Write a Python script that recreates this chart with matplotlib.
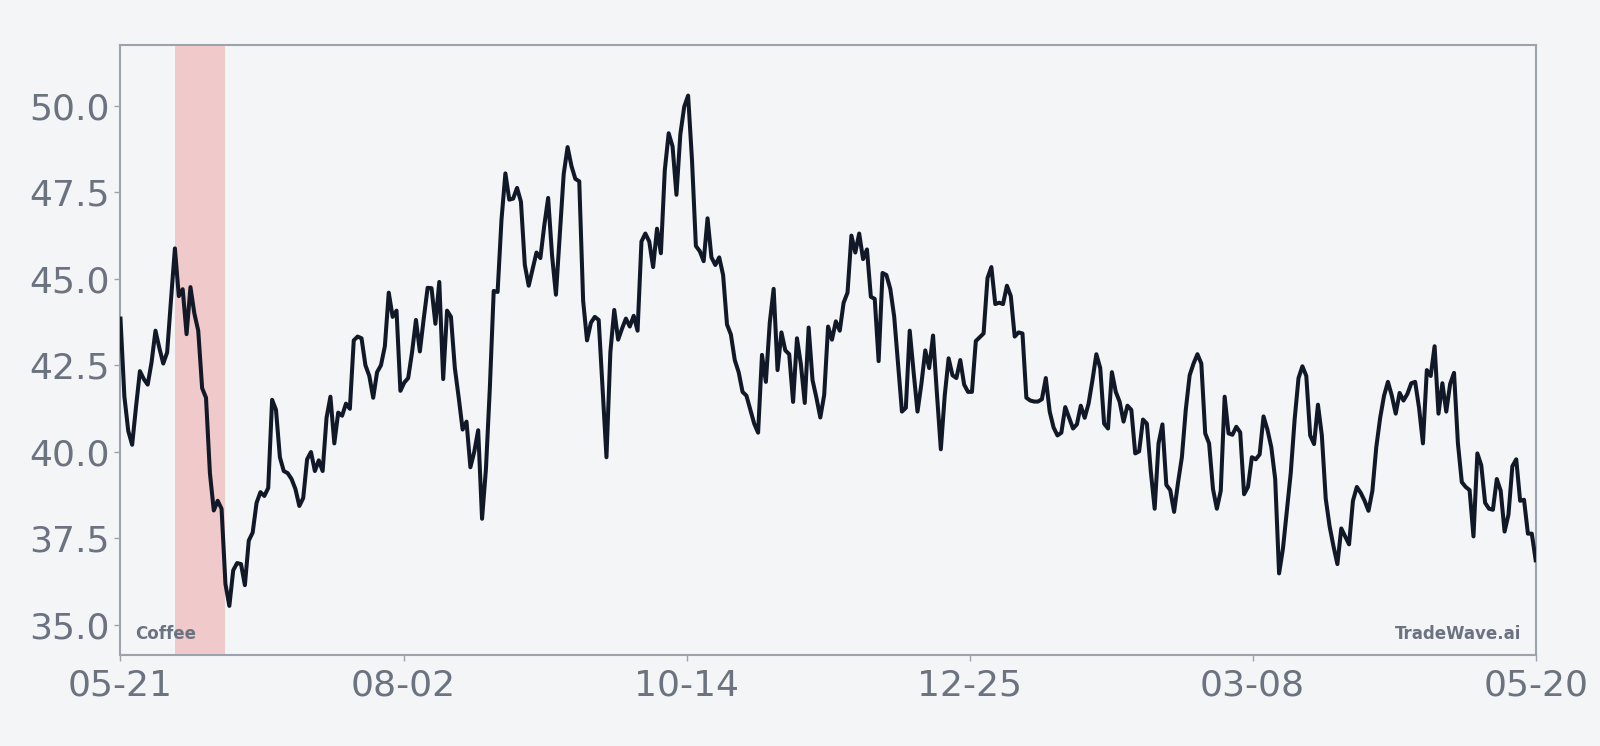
import numpy as np
import matplotlib
matplotlib.use("Agg")
import matplotlib.pyplot as plt
from matplotlib.ticker import MultipleLocator, FormatStrFormatter

# daily closing values
prices = [
    43.85, 41.6, 40.6, 40.2, 41.3, 42.33, 42.1, 41.94, 42.59, 43.5,
    43.0, 42.55, 42.87, 44.4, 45.88, 44.5, 44.7, 43.4, 44.76, 44.0,
    43.5, 41.84, 41.56, 39.38, 38.3, 38.58, 38.35, 36.17, 35.54, 36.57,
    36.78, 36.75, 36.14, 37.43, 37.66, 38.52, 38.83, 38.72, 38.95, 41.5,
    41.21, 39.84, 39.44, 39.38, 39.21, 38.92, 38.43, 38.66, 39.78, 39.99,
    39.44, 39.75, 39.44, 40.98, 41.59, 40.24, 41.13, 41.04, 41.39, 41.24,
    43.22, 43.33, 43.28, 42.5, 42.19, 41.56, 42.3, 42.5, 43.05, 44.6,
    43.9, 44.08, 41.76, 42.0, 42.13, 42.88, 43.81, 42.9, 43.85, 44.74,
    44.73, 43.7, 44.91, 42.1, 44.08, 43.9, 42.42, 41.56, 40.64, 40.87,
    39.55, 40.0, 40.62, 38.06, 39.5, 41.84, 44.65, 44.62, 46.71, 48.05,
    47.29, 47.32, 47.63, 47.23, 45.4, 44.8, 45.28, 45.76, 45.6, 46.54,
    47.34, 45.68, 44.54, 46.31, 48.03, 48.81, 48.26, 47.89, 47.82, 44.36,
    43.22, 43.73, 43.9, 43.81, 41.84, 39.84, 42.88, 44.1, 43.24, 43.56,
    43.85, 43.62, 43.93, 43.5, 46.08, 46.31, 46.08, 45.34, 46.45, 45.74,
    48.14, 49.21, 48.83, 47.43, 49.18, 49.98, 50.3, 48.43, 45.95, 45.8,
    45.51, 46.75, 45.62, 45.4, 45.62, 45.11, 43.68, 43.39, 42.65, 42.3,
    41.73, 41.62, 41.21, 40.81, 40.55, 42.8, 42.02, 43.73, 44.71, 42.36,
    43.45, 42.93, 42.82, 41.44, 43.28, 42.53, 41.41, 43.59, 42.07, 41.56,
    40.99, 41.64, 43.62, 43.24, 43.77, 43.5, 44.31, 44.6, 46.25, 45.76,
    46.31, 45.57, 45.85, 44.48, 44.42, 42.62, 45.17, 45.11, 44.71, 43.91,
    42.53, 41.16, 41.27, 43.5, 42.3, 41.16, 41.96, 42.93, 42.42, 43.36,
    41.67, 40.07, 41.62, 42.7, 42.21, 42.13, 42.65, 41.94, 41.73, 41.73,
    43.2, 43.31, 43.42, 45.02, 45.34, 44.27, 44.31, 44.27, 44.8, 44.5,
    43.33, 43.45, 43.42, 41.56, 41.48, 41.45, 41.45, 41.52, 42.13, 41.16,
    40.7, 40.47, 40.55, 41.29, 40.98, 40.67, 40.79, 41.33, 40.98, 41.39,
    42.07, 42.82, 42.42, 40.81, 40.67, 42.3, 41.73, 41.44, 40.87, 41.33,
    41.21, 39.95, 40.01, 40.93, 40.81, 39.44, 38.35, 40.24, 40.79, 39.04,
    38.89, 38.26, 39.1, 39.84, 41.21, 42.21, 42.55, 42.82, 42.55, 40.53,
    40.24, 38.92, 38.35, 38.87, 41.59, 40.53, 40.49, 40.72, 40.56, 38.77,
    38.98, 39.84, 39.78, 39.92, 41.02, 40.64, 40.13, 39.21, 36.48, 37.2,
    38.29, 39.38, 40.93, 42.13, 42.47, 42.19, 40.47, 40.22, 41.36, 40.47,
    38.64, 37.84, 37.26, 36.75, 37.78, 37.55, 37.32, 38.58, 38.98, 38.81,
    38.58, 38.29, 38.87, 40.13, 40.98, 41.62, 42.02, 41.62, 41.1, 41.7,
    41.48, 41.67, 41.98, 42.02, 41.27, 40.24, 42.36, 42.19, 43.05, 41.1,
    41.98, 41.16, 41.96, 42.28, 40.24, 39.12, 38.98, 38.89, 37.55, 39.95,
    39.61, 38.52, 38.35, 38.32, 39.21, 38.87, 37.69, 38.18, 39.58, 39.78,
    38.58, 38.61, 37.63, 37.63, 36.86,
]
date_labels = ["05-21", "08-02", "10-14", "12-25", "03-08", "05-20"]
highlight = (14, 27)  # shaded window, day index

bg = "#f3f5f7"
grey = "#6b7280"
edge = "#9ca3af"

days = np.arange(len(prices))

fig = plt.figure(figsize=(16, 7.46), dpi=100, facecolor=bg)
ax = fig.add_axes([0.0753, 0.122, 0.8845, 0.818])
ax.set_facecolor(bg)

ax.axvspan(highlight[0], highlight[1], color="#f0caca", lw=0, zorder=1)
ax.plot(days, prices, color="#111827", lw=2.9, zorder=3)

ax.set_xlim(days[0], days[-1])
ax.set_ylim(34.12, 51.77)

ax.set_xticks(np.linspace(days[0], days[-1], len(date_labels)))
ax.set_xticklabels(date_labels)
ax.yaxis.set_major_locator(MultipleLocator(2.5))
ax.yaxis.set_major_formatter(FormatStrFormatter("%.1f"))

ax.tick_params(axis="both", labelsize=26, colors=edge, labelcolor=grey, length=4, width=1)
ax.tick_params(axis="x", pad=6)
for s in ax.spines.values():
    s.set_color(edge)
    s.set_linewidth(1.5)

ax.text(0.01, 0.02, "Coffee", transform=ax.transAxes, fontsize=12,
        fontweight="bold", color=grey, ha="left", va="bottom", zorder=4)
ax.text(0.99, 0.02, "TradeWave.ai", transform=ax.transAxes, fontsize=12,
        fontweight="bold", color=grey, ha="right", va="bottom", zorder=4)

fig.savefig("out.png", dpi=100, facecolor=bg)
